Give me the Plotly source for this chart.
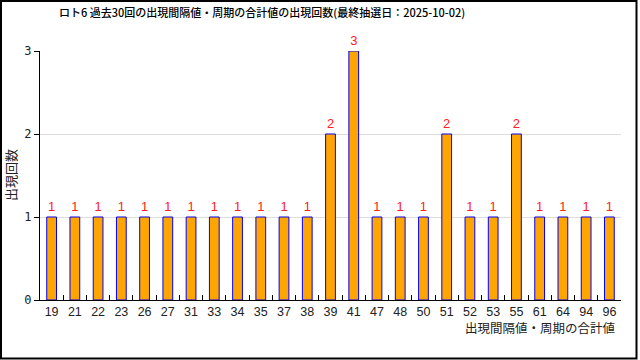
import plotly.graph_objects as go

categories = ["19", "21", "22", "23", "26", "27", "31", "33", "34", "35", "37", "38", "39",
              "41", "47", "48", "50", "51", "52", "53", "55", "61", "64", "94", "96"]
counts = [1, 1, 1, 1, 1, 1, 1, 1, 1, 1, 1, 1, 2, 3, 1, 1, 1, 2, 1, 1, 2, 1, 1, 1, 1]
y_ticks = [0, 1, 2, 3]

title_text = "ロト6 過去30回の出現間隔値・周期の合計値の出現回数(最終抽選日：2025-10-02)"
x_title = "出現間隔値・周期の合計値"
y_title = "出現回数"

W, H = 640, 360
L, R, T, B = 40, 19, 51, 60
PW, PH = W - L - R, H - T - B

def px_x(px):
    return (px - L) / PW

def px_y(py):
    return (H - B - py) / PH

FONT = "Noto Sans CJK JP"
NUM_FONT = "Liberation Sans"

fig = go.Figure()
fig.add_trace(go.Bar(
    x=categories, y=counts,
    marker=dict(color="#FFA500", line=dict(color="#0000FF", width=1)),
    width=0.42,
    text=[str(v) for v in counts],
    textposition="outside",
    textfont=dict(color="#FF2020", size=13, family=NUM_FONT),
    cliponaxis=False,
))

fig.update_layout(
    width=W, height=H,
    margin=dict(l=L, r=R, t=T, b=B),
    paper_bgcolor="white", plot_bgcolor="white",
    showlegend=False,
    font=dict(family=FONT, color="#222222"),
    title=dict(text=title_text, x=59 / W, xanchor="left", xref="container",
               y=1 - 13 / H, yanchor="middle", yref="container",
               font=dict(size=11, color="#000000", family=FONT, weight=500)),
    xaxis=dict(type="category", showline=True, linecolor="black", linewidth=1,
               ticks="inside", tickson="boundaries", ticklen=5, tickcolor="black",
               tickangle=0,
               tickfont=dict(size=12.5, family=NUM_FONT, color="#222222"),
               showgrid=False, zeroline=False),
    yaxis=dict(range=[0, 3], tickvals=y_ticks, showline=True, linecolor="black",
               linewidth=1, ticks="outside", ticklen=5, tickcolor="black",
               tickfont=dict(size=12, family="DejaVu Sans Mono", color="#222222"),
               showgrid=True, gridcolor="#dddddd", gridwidth=1, zeroline=False),
    bargap=0.58,
)

fig.add_annotation(text=y_title, textangle=-90, x=px_x(10), y=px_y(175),
                   xref="paper", yref="paper", showarrow=False,
                   font=dict(size=13, family=FONT, color="#222222"),
                   xanchor="center", yanchor="middle")
fig.add_annotation(text=x_title, x=px_x(617), y=px_y(315.5),
                   xref="paper", yref="paper", showarrow=False,
                   font=dict(size=12.5, family=FONT, color="#222222"),
                   xanchor="right", yanchor="top")

fig.add_shape(type="rect", xref="paper", yref="paper",
              x0=px_x(1), x1=px_x(636.5), y0=px_y(358.5), y1=px_y(1),
              line=dict(color="black", width=2), fillcolor="rgba(0,0,0,0)", layer="above")

fig.write_html("out.html")
